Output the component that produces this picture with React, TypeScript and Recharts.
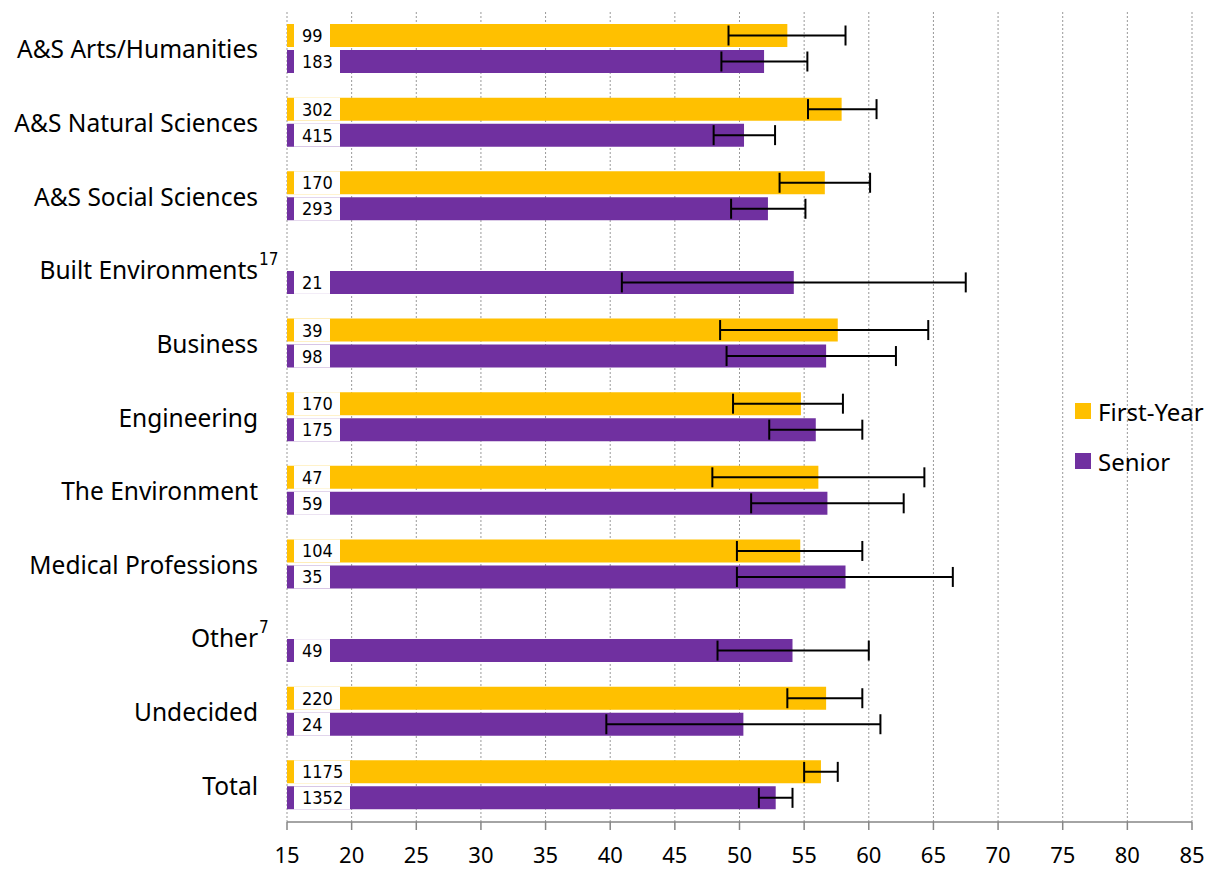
import React from 'react';
import { BarChart, Bar, XAxis, YAxis, CartesianGrid, ErrorBar, LabelList, Legend } from 'recharts';

const categories = [
  'A&S Arts/Humanities',
  'A&S Natural Sciences',
  'A&S Social Sciences',
  'Built Environments',
  'Business',
  'Engineering',
  'The Environment',
  'Medical Professions',
  'Other',
  'Undecided',
  'Total',
];
// superscript counts shown next to the category name (first-year n too small to plot)
const notes = ['', '', '', '17', '', '', '', '', '7', '', ''];

const fyMean = [53.7, 57.9, 56.6, null, 57.6, 54.75, 56.1, 54.7, null, 56.7, 56.3];
const fyLow = [49.15, 55.3, 53.1, null, 48.5, 49.5, 47.9, 49.8, null, 53.7, 55.0];
const fyHigh = [58.2, 60.6, 60.1, null, 64.6, 58.0, 64.3, 59.5, null, 59.5, 57.6];
const fyN = [99, 302, 170, null, 39, 170, 47, 104, null, 220, 1175];

const srMean = [51.9, 50.35, 52.2, 54.2, 56.7, 55.9, 56.8, 58.2, 54.1, 50.3, 52.8];
const srLow = [48.6, 48.0, 49.35, 40.9, 49.0, 52.3, 50.9, 49.8, 48.3, 39.7, 51.5];
const srHigh = [55.25, 52.75, 55.1, 67.5, 62.1, 59.5, 62.7, 66.5, 60.0, 60.9, 54.1];
const srN = [183, 415, 293, 21, 98, 175, 59, 35, 49, 24, 1352];

const xTicks = [15, 20, 25, 30, 35, 40, 45, 50, 55, 60, 65, 70, 75, 80, 85];

const FY_COLOR = '#FFC000';
const SR_COLOR = '#7030A0';
const AXIS_COLOR = '#868686';
const LABEL_FONT = '"Noto Sans", "Open Sans", sans-serif';
const COUNT_FONT = '"Liberation Sans Narrow", "DejaVu Sans Condensed", "Liberation Sans", sans-serif';

const err = (mean: number | null, low: number | null, high: number | null) =>
  mean == null || low == null || high == null ? null : [mean - low, high - mean];

const data = categories.map((name, i) => ({
  name,
  note: notes[i],
  fy: fyMean[i],
  fyErr: err(fyMean[i], fyLow[i], fyHigh[i]),
  fyN: fyN[i],
  senior: srMean[i],
  srErr: err(srMean[i], srLow[i], srHigh[i]),
  srN: srN[i],
}));

const frameTicks = categories.map((_, i) => i).concat(categories.length);

// n label drawn in a white box near the start of each bar
function CountLabel(props: any) {
  const { x, y, height, value } = props;
  if (value == null || x == null) return null;
  const text = String(value);
  return (
    <g>
      <rect x={x + 7} y={y} width={16 + text.length * 10} height={height} fill="#fff" />
      <text
        x={x + 15}
        y={y + height / 2}
        dominantBaseline="central"
        fontFamily={COUNT_FONT}
        fontSize={18}
        fill="#000"
      >
        {text}
      </text>
    </g>
  );
}

function CategoryTick(props: any) {
  const { x, y, payload } = props;
  const row = data.find((d) => d.name === payload.value);
  return (
    <g>
      <text x={x} y={y} textAnchor="end" dominantBaseline="central" fontFamily={LABEL_FONT} fontSize={24.5} fill="#000">
        {payload.value}
      </text>
      {row && row.note ? (
        <text x={x + 1} y={y - 11} textAnchor="start" dominantBaseline="central" fontFamily={COUNT_FONT} fontSize={17} fill="#000">
          {row.note}
        </text>
      ) : null}
    </g>
  );
}

function LegendBox() {
  const items = [
    { label: 'First-Year', color: FY_COLOR },
    { label: 'Senior', color: SR_COLOR },
  ];
  return (
    <div style={{ fontFamily: LABEL_FONT, fontSize: 24, color: '#000', whiteSpace: 'nowrap' }}>
      {items.map((it) => (
        <div key={it.label} style={{ display: 'flex', alignItems: 'center', height: 50 }}>
          <span style={{ width: 16, height: 16, background: it.color, marginRight: 7, display: 'inline-block', flex: 'none' }} />
          <span>{it.label}</span>
        </div>
      ))}
    </div>
  );
}

export default function App() {
  return (
    <div style={{ width: 1199, height: 864, background: '#fff' }}>
      <BarChart
        width={1199}
        height={864}
        data={data}
        layout="vertical"
        margin={{ top: 4, right: 15, left: 0, bottom: 0 }}
        barGap={3}
        barSize={23}
      >
        <CartesianGrid horizontal={false} stroke="#999" strokeDasharray="2 2" />
        <XAxis
          type="number"
          domain={[15, 85]}
          ticks={xTicks}
          interval={0}
          height={50}
          axisLine={{ stroke: AXIS_COLOR, strokeWidth: 1.5 }}
          tickLine={{ stroke: AXIS_COLOR, strokeWidth: 1.5 }}
          tickSize={8}
          tickMargin={17}
          tick={{ fill: '#000', fontSize: 22, fontFamily: LABEL_FONT }}
        />
        <YAxis
          yAxisId="frame"
          type="number"
          domain={[0, categories.length]}
          ticks={frameTicks}
          interval={0}
          width={0}
          axisLine={{ stroke: AXIS_COLOR, strokeWidth: 1.5 }}
          tickLine={{ stroke: AXIS_COLOR, strokeWidth: 1.5 }}
          tickSize={9}
          tick={() => <g />}
        />
        <YAxis
          type="category"
          dataKey="name"
          width={279}
          interval={0}
          axisLine={false}
          tickLine={false}
          tickSize={0}
          tickMargin={29}
          tick={CategoryTick}
        />
        <Legend
          layout="horizontal"
          verticalAlign="middle"
          content={() => <LegendBox />}
          wrapperStyle={{ left: 1067, top: 378, width: 140 }}
        />
        <Bar dataKey="fy" name="First-Year" fill={FY_COLOR} isAnimationActive={false}>
          <LabelList dataKey="fyN" content={CountLabel} />
          <ErrorBar dataKey="fyErr" direction="x" width={10} stroke="#000" strokeWidth={2} />
        </Bar>
        <Bar dataKey="senior" name="Senior" fill={SR_COLOR} isAnimationActive={false}>
          <LabelList dataKey="srN" content={CountLabel} />
          <ErrorBar dataKey="srErr" direction="x" width={10} stroke="#000" strokeWidth={2} />
        </Bar>
      </BarChart>
    </div>
  );
}
